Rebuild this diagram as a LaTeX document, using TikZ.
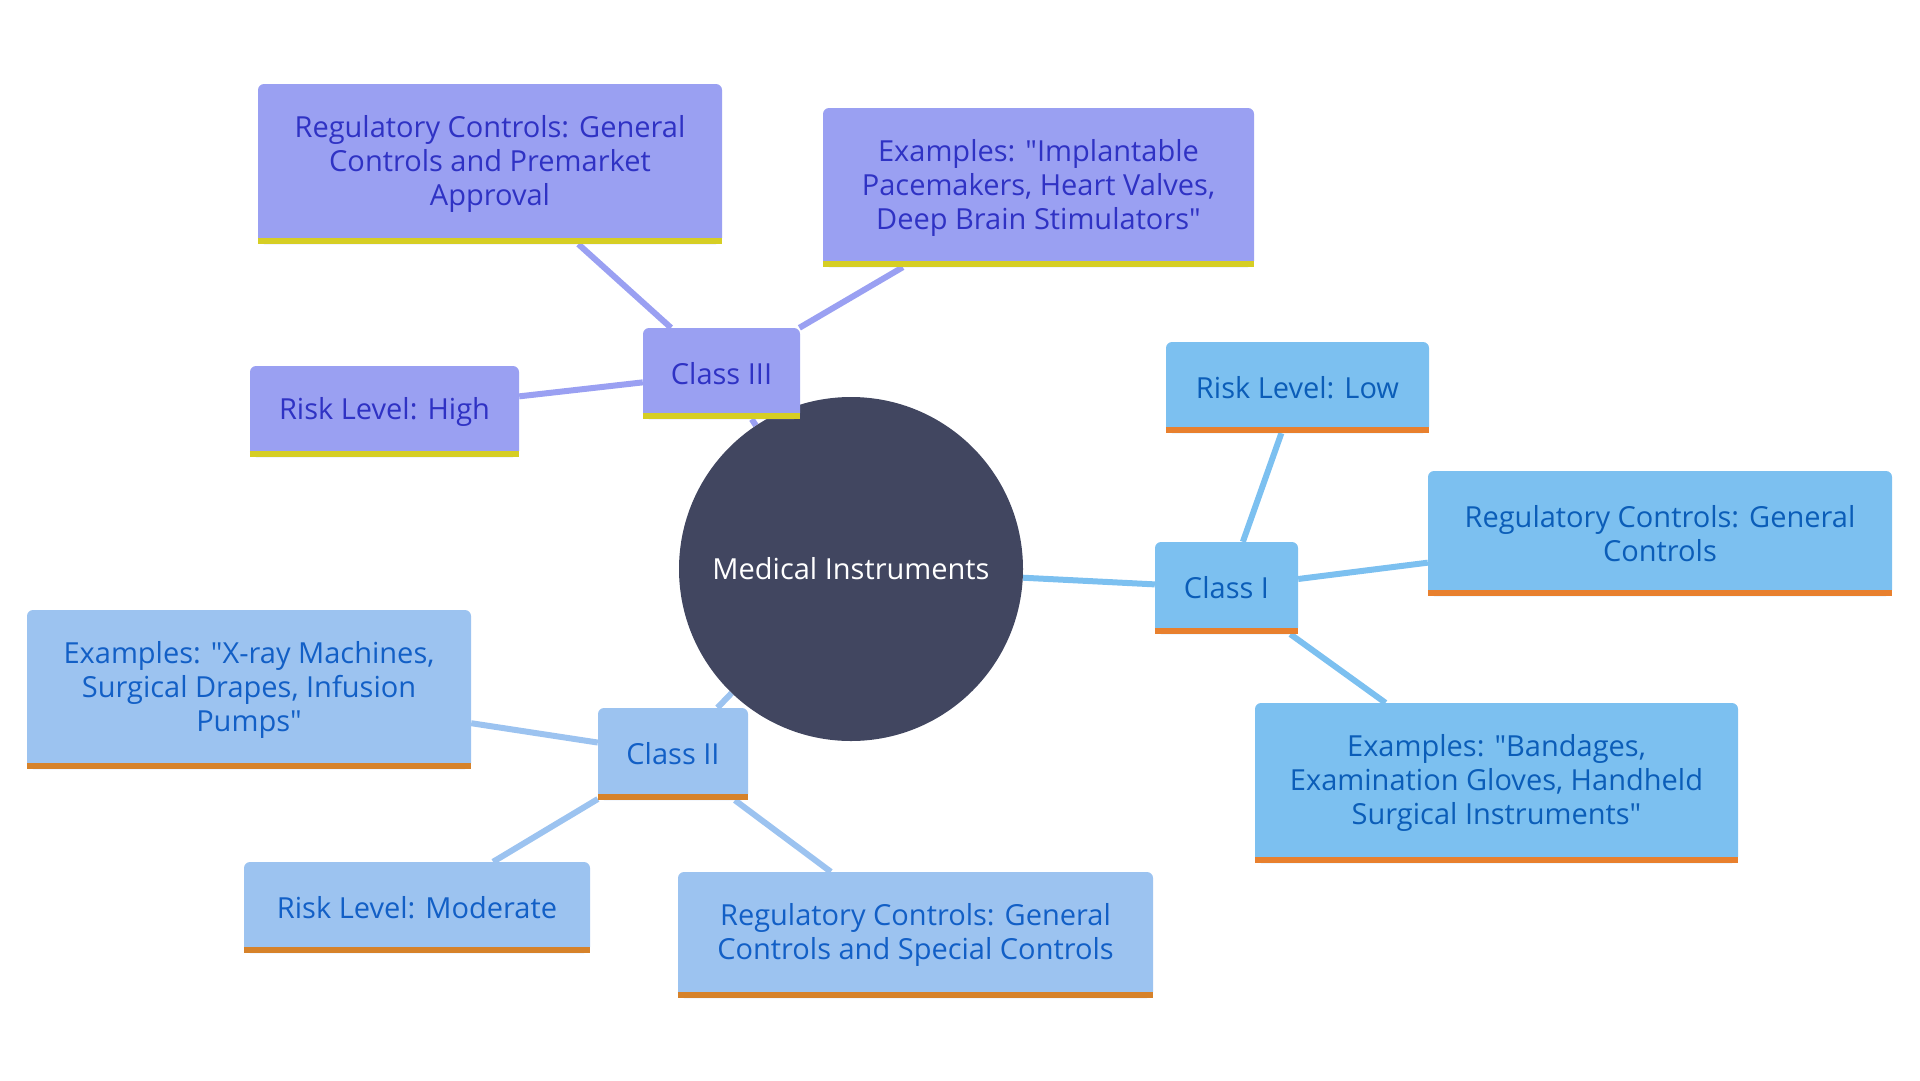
\documentclass[tikz,border=0pt]{standalone}
\usepackage{fontspec}
\setmainfont{Open Sans}
\usepackage{xcolor}
\usetikzlibrary{backgrounds}

\definecolor{rootfill}{HTML}{414660}
\definecolor{violetfill}{HTML}{9AA0F2}
\definecolor{violettext}{HTML}{2F32C4}
\definecolor{violetbar}{HTML}{D6CE24}
\definecolor{skyfill}{HTML}{7CC0F0}
\definecolor{skytext}{HTML}{0B5DB8}
\definecolor{skybar}{HTML}{E8802E}
\definecolor{paleblue}{HTML}{9CC3F0}
\definecolor{paletext}{HTML}{125FC6}
\definecolor{palebar}{HTML}{D6822A}

\begin{document}
\begin{tikzpicture}[
    x=1pt, y=-1pt,
    topic/.style={
        rectangle, rounded corners=6pt, inner sep=0pt,
        align=center, font=\fontsize{29}{34}\selectfont,
    },
    classIII/.style={topic, fill=violetfill, text=violettext},
    classI/.style={topic, fill=skyfill, text=skytext},
    classII/.style={topic, fill=paleblue, text=paletext},
    root/.style={circle, fill=rootfill, text=white, minimum size=344pt,
        inner sep=0pt, font=\fontsize{29}{34}\selectfont},
    link/.style={line width=6pt},
    bar/.style={line width=6pt, line cap=butt},
]

\useasboundingbox (0,0) rectangle (1920,1080);

% ROOT
\node[root] (root) at (851, 569) {Medical Instruments};

% CLASS III
\node[classIII, minimum width=157pt, minimum height=91pt] (c3) at (721.5, 373.5) {Class III};
\node[classIII, minimum width=464pt, minimum height=160pt] (reg3) at (490, 164) {Regulatory Controls: General\\Controls and Premarket\\Approval};
\node[classIII, minimum width=431pt, minimum height=159pt] (ex3) at (1038.5, 187.5) {Examples: \textquotedbl Implantable\\Pacemakers, Heart Valves,\\Deep Brain Stimulators\textquotedbl};
\node[classIII, minimum width=269pt, minimum height=91pt] (risk3) at (384.5, 411.5) {Risk Level: High};

% CLASS I
\node[classI, minimum width=143pt, minimum height=92pt] (c1) at (1226.5, 588) {Class I};
\node[classI, minimum width=263pt, minimum height=91pt] (risk1) at (1297.5, 387.5) {Risk Level: Low};
\node[classI, minimum width=464pt, minimum height=125pt] (reg1) at (1660, 533.5) {Regulatory Controls: General\\Controls};
\node[classI, minimum width=483pt, minimum height=160pt] (ex1) at (1496.5, 783) {Examples: \textquotedbl Bandages,\\Examination Gloves, Handheld\\Surgical Instruments\textquotedbl};

% CLASS II
\node[classII, minimum width=150pt, minimum height=92pt] (c2) at (673, 754) {Class II};
\node[classII, minimum width=444pt, minimum height=159pt] (ex2) at (249, 689.5) {Examples: \textquotedbl X-ray Machines,\\Surgical Drapes, Infusion\\Pumps\textquotedbl};
\node[classII, minimum width=346pt, minimum height=91pt] (risk2) at (417, 907.5) {Risk Level: Moderate};
\node[classII, minimum width=475pt, minimum height=126pt] (reg2) at (915.5, 935) {Regulatory Controls: General\\Controls and Special Controls};

% bottom bars
\foreach \n/\c in {c3/violetbar, reg3/violetbar, ex3/violetbar, risk3/violetbar,
                   c1/skybar, risk1/skybar, reg1/skybar, ex1/skybar,
                   c2/palebar, ex2/palebar, risk2/palebar, reg2/palebar}
    \draw[bar, \c] ([yshift=3pt]\n.south west) -- ([yshift=3pt]\n.south east);

% connectors
\begin{scope}[on background layer]
\foreach \a/\b in {root/c3, c3/reg3, c3/ex3, c3/risk3}
    \draw[link, violetfill] (\a) -- (\b);
\foreach \a/\b in {root/c1, c1/risk1, c1/reg1, c1/ex1}
    \draw[link, skyfill] (\a) -- (\b);
\foreach \a/\b in {root/c2, c2/ex2, c2/risk2, c2/reg2}
    \draw[link, paleblue] (\a) -- (\b);
\end{scope}

\end{tikzpicture}
\end{document}
